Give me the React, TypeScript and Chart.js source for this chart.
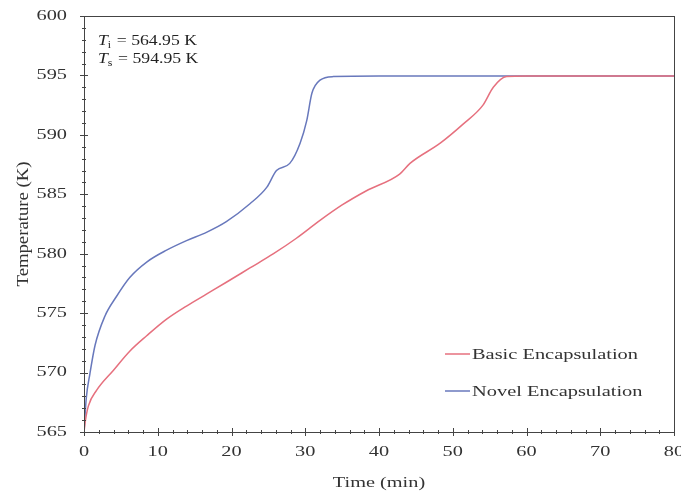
import React, { useEffect, useRef } from "react";
import { Chart, registerables } from "chart.js";

Chart.register(...registerables);

const basicTime = [0, 0.2, 0.6, 1.7, 4.0, 6.2, 8.5, 11.2, 13.9, 16.6, 19.3, 22.5, 25.7, 28.8, 32, 35, 38.3, 42.8, 44.2, 48.3, 51.4, 54.1, 55.5, 57.3, 60, 70, 80];
const basicTemp = [565, 566, 567.2, 568.5, 570.2, 571.8, 573.1, 574.5, 575.6, 576.6, 577.6, 578.8, 580.0, 581.3, 582.8, 584.1, 585.3, 586.7, 587.6, 589.3, 590.9, 592.5, 594.0, 594.9, 594.95, 594.95, 594.95];

const novelTime = [0, 0.3, 0.8, 1.5, 2.8, 4.4, 6.2, 8.5, 11.2, 13.9, 16.6, 19.3, 22.5, 24.8, 26.1, 27.9, 29.3, 30.2, 30.9, 32, 33.8, 40, 50, 60, 70, 80];
const novelTemp = [565, 567.8, 569.9, 572.3, 574.7, 576.4, 578.0, 579.3, 580.3, 581.1, 581.8, 582.7, 584.2, 585.6, 587.0, 587.6, 589.3, 591.2, 593.5, 594.6, 594.9, 594.95, 594.95, 594.95, 594.95, 594.95];

const xTicks = [0, 10, 20, 30, 40, 50, 60, 70, 80];
const yTicks = [565, 570, 575, 580, 585, 590, 595, 600];
const xTitle = "Time (min)";
const yTitle = "Temperature (K)";
const seriesNames = ["Basic Encapsulation", "Novel Encapsulation"];
const seriesColors = ["#e6707e", "#6878bc"];
const annotationLines = [
  { sub: "i", value: "564.95 K" },
  { sub: "s", value: "594.95 K" },
];

const FONT = "'Liberation Serif', 'DejaVu Serif', serif";
const AXIS = "#444";
const TEXT = "#333";

function stretchText(ctx: any, text: string, x: number, y: number, sx: number, align: string) {
  ctx.save();
  ctx.translate(x, y);
  ctx.scale(sx, 1);
  ctx.textAlign = align;
  ctx.fillText(text, 0, 0);
  ctx.restore();
}

const decorPlugin = {
  id: "decor",
  afterDraw(chart: any) {
    const { ctx, chartArea, scales } = chart;
    const { left, right, top, bottom } = chartArea;
    ctx.save();
    ctx.strokeStyle = AXIS;
    ctx.lineWidth = 1;
    ctx.strokeRect(left + 0.5, top + 0.5, right - left, bottom - top);
    const xs = scales.x;
    for (let v = 0; v <= 80; v += 2) {
      const px = Math.round(xs.getPixelForValue(v)) + 0.5;
      const l = v % 10 === 0 ? 4 : 2;
      ctx.beginPath();
      ctx.moveTo(px, bottom - l);
      ctx.lineTo(px, bottom + l);
      ctx.stroke();
    }
    const ys = scales.y;
    for (let v = 565; v <= 600; v += 1) {
      const py = Math.round(ys.getPixelForValue(v)) + 0.5;
      const l = v % 5 === 0 ? 4 : 2;
      ctx.beginPath();
      ctx.moveTo(left - l, py);
      ctx.lineTo(left + l, py);
      ctx.stroke();
    }

    // tick labels
    ctx.fillStyle = TEXT;
    ctx.font = `14.5px ${FONT}`;
    ctx.textBaseline = "middle";
    xTicks.forEach((v) => stretchText(ctx, String(v), xs.getPixelForValue(v), bottom + 20, 1.4, "center"));
    yTicks.forEach((v) => stretchText(ctx, String(v), left - 17, ys.getPixelForValue(v), 1.4, "right"));

    // axis titles
    stretchText(ctx, xTitle, (left + right) / 2, bottom + 51, 1.4, "center");
    ctx.save();
    ctx.translate(24, (top + bottom) / 2);
    ctx.rotate(-Math.PI / 2);
    ctx.font = `16px ${FONT}`;
    ctx.scale(1.17, 1);
    ctx.textAlign = "center";
    ctx.fillText(yTitle, 0, 0);
    ctx.restore();

    // annotation
    ctx.fillStyle = "#222";
    ctx.textBaseline = "alphabetic";
    annotationLines.forEach((a, i) => {
      ctx.save();
      ctx.translate(left + 14, top + 29 + i * 18);
      ctx.scale(1.18, 1);
      ctx.textAlign = "left";
      ctx.font = `italic 15px ${FONT}`;
      ctx.fillText("T", 0, 0);
      let x = ctx.measureText("T").width;
      ctx.font = `10px ${FONT}`;
      ctx.fillText(a.sub, x, 3);
      x += ctx.measureText(a.sub).width + 1;
      ctx.font = `15px ${FONT}`;
      ctx.fillText(" = " + a.value, x, 0);
      ctx.restore();
    });

    // legend
    ctx.textBaseline = "middle";
    ctx.font = `15px ${FONT}`;
    seriesNames.forEach((n, i) => {
      const y = top + 338 + i * 37;
      const x0 = left + 361;
      ctx.strokeStyle = seriesColors[i];
      ctx.lineWidth = 1.5;
      ctx.beginPath();
      ctx.moveTo(x0, y);
      ctx.lineTo(x0 + 25, y);
      ctx.stroke();
      ctx.fillStyle = TEXT;
      stretchText(ctx, n, x0 + 27, y + 1, 1.36, "left");
    });
    ctx.restore();
  },
};

export default function App() {
  const ref = useRef<HTMLCanvasElement | null>(null);
  useEffect(() => {
    if (!ref.current) return;
    const mk = (t: number[], v: number[]) => t.map((x, i) => ({ x, y: v[i] }));
    const chart = new Chart(ref.current, {
      type: "line",
      data: {
        datasets: [
          {
            label: seriesNames[0],
            data: mk(basicTime, basicTemp),
            borderColor: seriesColors[0],
            borderWidth: 1.5,
            pointRadius: 0,
            cubicInterpolationMode: "monotone",
          },
          {
            label: seriesNames[1],
            data: mk(novelTime, novelTemp),
            borderColor: seriesColors[1],
            borderWidth: 1.5,
            pointRadius: 0,
            cubicInterpolationMode: "monotone",
          },
        ],
      },
      options: {
        animation: false,
        responsive: false,
        layout: { padding: { top: 16, right: 7, left: 0, bottom: 0 } },
        plugins: { legend: { display: false }, tooltip: { enabled: false } },
        scales: {
          x: {
            type: "linear",
            min: 0,
            max: 80,
            border: { display: false },
            grid: { display: false, drawTicks: false },
            ticks: { display: false, stepSize: 10 },
            afterFit: (s: any) => { s.height = 60; s.paddingLeft = 0; s.paddingRight = 0; },
          },
          y: {
            type: "linear",
            min: 565,
            max: 600,
            border: { display: false },
            grid: { display: false, drawTicks: false },
            ticks: { display: false, stepSize: 5 },
            afterFit: (s: any) => { s.width = 84; s.paddingTop = 0; s.paddingBottom = 0; },
          },
        },
      },
      plugins: [decorPlugin],
    } as any);
    return () => chart.destroy();
  }, []);
  return (
    <div style={{ position: "fixed", left: 0, top: 0, width: 681, height: 492, background: "#fff" }}>
      <canvas ref={ref} width={681} height={492} />
    </div>
  );
}
